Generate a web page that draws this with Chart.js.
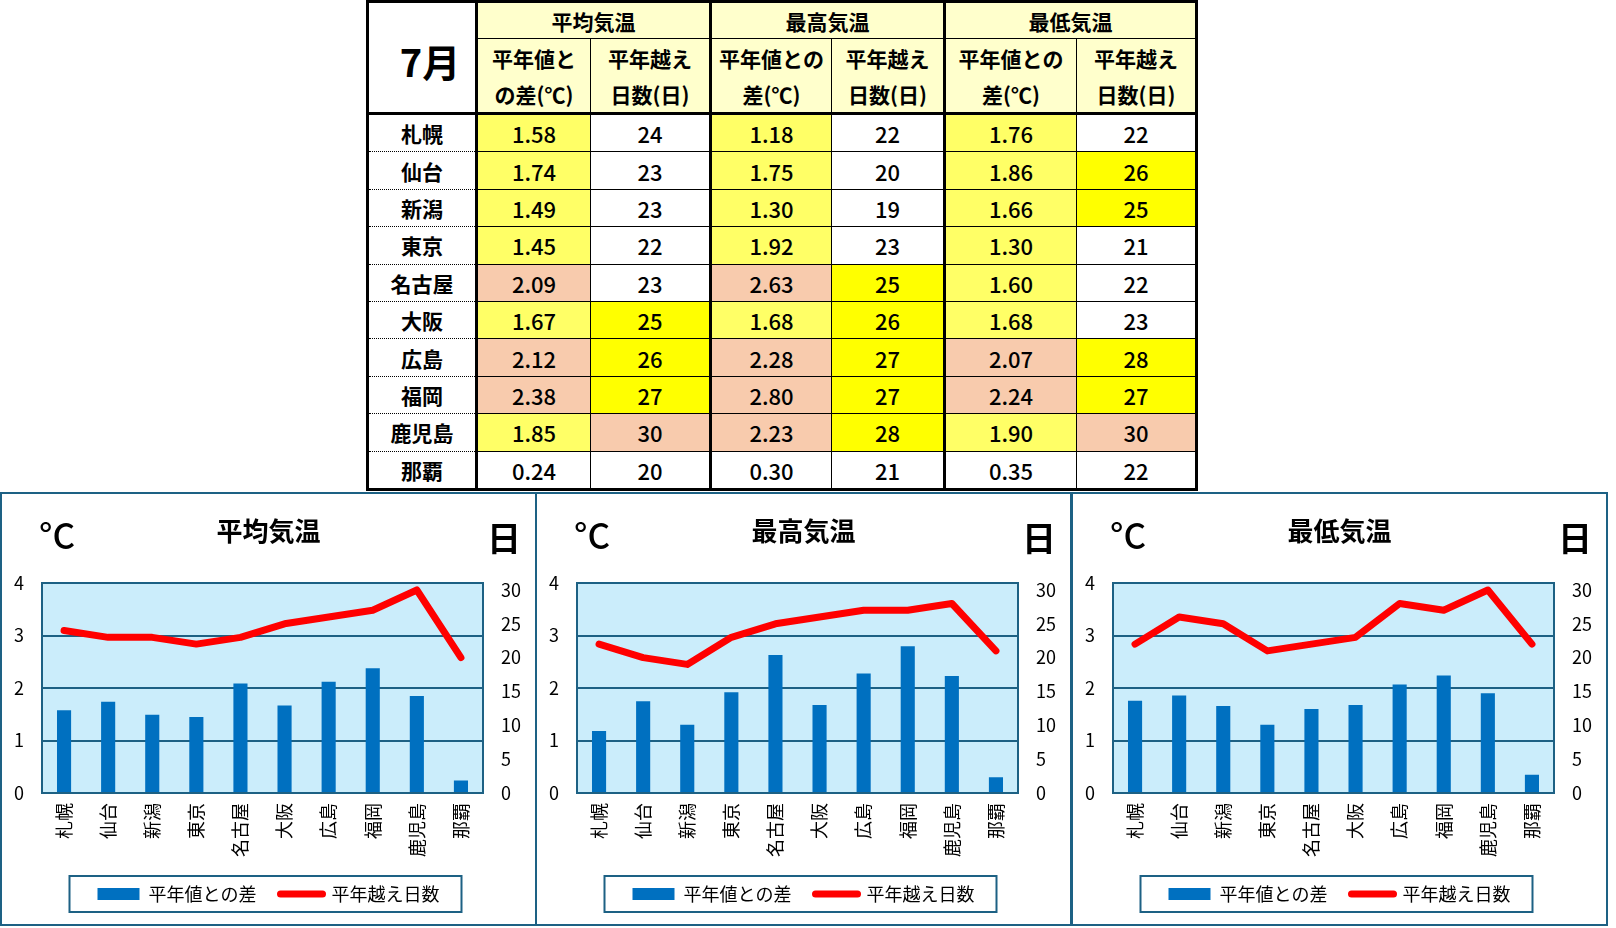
<!DOCTYPE html>
<html lang="ja">
<head>
<meta charset="utf-8">
<script src="https://cdn.jsdelivr.net/npm/chart.js@4.4.1/dist/chart.umd.min.js"></script>
<style>
  body { margin: 0; background: #fff; width: 1616px; height: 928px; position: relative; overflow: hidden;
         font-family: "Noto Sans CJK JP", sans-serif; }
  #tbl { position: absolute; left: 366px; top: 0; width: 829px; border-collapse: collapse; table-layout: fixed;
         border: 3px solid #000; color: #000; }
  #tbl td { text-align: center; padding: 0; border: 1px solid #000; white-space: nowrap; overflow: hidden; }
  #tbl .hd { background: #ffffcc; font-weight: bold; font-size: 21px; }
  #tbl .h1 { height: 35px; }
  #tbl .h2 { height: 73px; line-height: 36px; border-bottom: 3px solid #000; }
  #tbl .month { background: #fff; font-size: 38px; font-weight: bold; padding-left: 16px; padding-top: 6px;
                border-bottom: 3px solid #000; }
  #tbl .city { font-size: 21px; font-weight: bold; border-top: 1px dotted #000; border-bottom: 1px dotted #000; }
  #tbl .num { font-size: 22px; font-weight: 500; height: 36.4px; }
  #tbl .tl { border-left: 3px solid #000; }
  .panel { position: absolute; top: 492px; width: 533px; height: 430px; border: 2px solid #1d6184; background: #fff; }
</style>
</head>
<body>
<table id="tbl">
  <colgroup>
    <col style="width:109px"><col style="width:114px"><col style="width:120px"><col style="width:121px">
    <col style="width:113px"><col style="width:132px"><col style="width:120px">
  </colgroup>
  <tbody id="tbody"></tbody>
</table>

<div class="panel" style="left:0px"><canvas id="avg"></canvas></div>
<div class="panel" style="left:535px"><canvas id="max"></canvas></div>
<div class="panel" style="left:1071px"><canvas id="min"></canvas></div>

<script>
const cities = ["札幌", "仙台", "新潟", "東京", "名古屋", "大阪", "広島", "福岡", "鹿児島", "那覇"];

const avgDiff = [1.58, 1.74, 1.49, 1.45, 2.09, 1.67, 2.12, 2.38, 1.85, 0.24];
const avgDays = [24, 23, 23, 22, 23, 25, 26, 27, 30, 20];

const maxDiff = [1.18, 1.75, 1.30, 1.92, 2.63, 1.68, 2.28, 2.80, 2.23, 0.30];
const maxDays = [22, 20, 19, 23, 25, 26, 27, 27, 28, 21];

const minDiff = [1.76, 1.86, 1.66, 1.30, 1.60, 1.68, 2.07, 2.24, 1.90, 0.35];
const minDays = [22, 26, 25, 21, 22, 23, 28, 27, 30, 22];

const diffTicks = [0, 1, 2, 3, 4];
const dayTicks = [0, 5, 10, 15, 20, 25, 30];

const FONT = '"Noto Sans CJK JP", sans-serif';
const TEAL = "#1d6184";

// table
function diffColor(v) {
  if (v >= 2) return "#f8cbad";
  if (v >= 1) return "#ffff66";
  return "#fff";
}
function daysColor(d) {
  if (d >= 30) return "#f8cbad";
  if (d >= 25) return "#ffff00";
  return "#fff";
}

let html = "";
html += '<tr><td class="month" rowspan="2">7月</td>' +
  '<td class="hd h1 tl" colspan="2">平均気温</td>' +
  '<td class="hd h1 tl" colspan="2">最高気温</td>' +
  '<td class="hd h1 tl" colspan="2">最低気温</td></tr>';
html += '<tr>' +
  '<td class="hd h2 tl">平年値と<br>の差(℃)</td><td class="hd h2">平年越え<br>日数(日)</td>' +
  '<td class="hd h2 tl">平年値との<br>差(℃)</td><td class="hd h2">平年越え<br>日数(日)</td>' +
  '<td class="hd h2 tl">平年値との<br>差(℃)</td><td class="hd h2">平年越え<br>日数(日)</td></tr>';
cities.forEach((c, i) => {
  html += "<tr>" +
    '<td class="city">' + c + "</td>" +
    '<td class="num tl" style="background:' + diffColor(avgDiff[i]) + '">' + avgDiff[i].toFixed(2) + "</td>" +
    '<td class="num" style="background:' + daysColor(avgDays[i]) + '">' + avgDays[i] + "</td>" +
    '<td class="num tl" style="background:' + diffColor(maxDiff[i]) + '">' + maxDiff[i].toFixed(2) + "</td>" +
    '<td class="num" style="background:' + daysColor(maxDays[i]) + '">' + maxDays[i] + "</td>" +
    '<td class="num tl" style="background:' + diffColor(minDiff[i]) + '">' + minDiff[i].toFixed(2) + "</td>" +
    '<td class="num" style="background:' + daysColor(minDays[i]) + '">' + minDays[i] + "</td>" +
    "</tr>";
});
document.getElementById("tbody").innerHTML = html;

// charts
Chart.defaults.font.family = FONT;
Chart.defaults.color = "#000";

const plotBg = {
  id: "plotBg",
  beforeDraw(chart) {
    const { ctx, chartArea: a } = chart;
    ctx.save();
    ctx.fillStyle = "#cbedfb";
    ctx.fillRect(a.left, a.top, a.width, a.height);
    ctx.restore();
  },
};

// unit labels above the axes + frame around the legend
const extras = {
  id: "extras",
  afterDraw(chart) {
    const { ctx, chartArea: a } = chart;
    ctx.save();
    ctx.fillStyle = "#000";
    ctx.textBaseline = "middle";
    ctx.font = "500 35px " + FONT;
    ctx.textAlign = "left";
    ctx.fillText("°C", a.left - 3, a.top - 47);
    ctx.font = "bold 34px " + FONT;
    ctx.textAlign = "right";
    ctx.fillText("日", a.right + 38, a.top - 45);

    const boxes = chart.legend.legendHitBoxes;
    if (boxes && boxes.length) {
      const x0 = Math.min(...boxes.map((b) => b.left));
      const x1 = Math.max(...boxes.map((b) => b.left + b.width));
      const y0 = Math.min(...boxes.map((b) => b.top));
      const y1 = Math.max(...boxes.map((b) => b.top + b.height));
      ctx.strokeStyle = TEAL;
      ctx.lineWidth = 2;
      ctx.strokeRect(x0 - 28, y0 - 9, x1 - x0 + 50, y1 - y0 + 18);
    }
    ctx.restore();
  },
};

const defaultLabels = Chart.defaults.plugins.legend.labels.generateLabels;

function makeChart(id, title, diffs, days) {
  new Chart(document.getElementById(id), {
    data: {
      labels: cities,
      datasets: [
        {
          type: "bar",
          label: "平年値との差",
          data: diffs,
          yAxisID: "y",
          backgroundColor: "#0070c0",
          borderWidth: 0,
          barPercentage: 0.32,
          categoryPercentage: 1,
          pointStyle: "rect",
          order: 1,
        },
        {
          type: "line",
          label: "平年越え日数",
          data: days,
          yAxisID: "y1",
          borderColor: "#ff0000",
          backgroundColor: "#ff0000",
          borderWidth: 7,
          borderCapStyle: "round",
          borderJoinStyle: "round",
          pointRadius: 0,
          pointStyle: "line",
          tension: 0,
          order: 0,
        },
      ],
    },
    options: {
      responsive: true,
      maintainAspectRatio: false,
      animation: false,
      layout: { padding: { left: 0, right: 0, top: 0, bottom: 11 } },
      plugins: {
        tooltip: { enabled: false },
        title: {
          display: true,
          text: title,
          color: "#000",
          font: { size: 26, weight: "bold" },
          padding: { top: 22, bottom: 36 },
        },
        legend: {
          position: "bottom",
          labels: {
            usePointStyle: true,
            pointStyleWidth: 42,
            boxHeight: 12,
            padding: 24,
            color: "#000",
            font: { size: 18 },
            sort: (a, b) => a.datasetIndex - b.datasetIndex,
            generateLabels: (chart) => {
              const items = defaultLabels(chart);
              items.forEach((it) => {
                if (it.datasetIndex === 1) {
                  it.lineWidth = 7;
                  it.lineCap = "round";
                  it.strokeStyle = "#ff0000";
                }
              });
              return items;
            },
          },
        },
      },
      scales: {
        x: {
          grid: { display: false, drawTicks: false },
          border: { color: TEAL, width: 2 },
          ticks: { minRotation: 90, maxRotation: 90, padding: 10, font: { size: 18 }, color: "#000" },
          afterFit: (s) => { s.height = 68; },
        },
        y: {
          position: "left",
          min: 0,
          max: 4,
          ticks: { padding: 18, font: { size: 18 }, color: "#000" },
          grid: { color: TEAL, lineWidth: 2, drawTicks: false },
          border: { color: TEAL, width: 2 },
          afterBuildTicks: (s) => { s.ticks = diffTicks.map((v) => ({ value: v })); },
          afterFit: (s) => { s.width = 40; },
        },
        y1: {
          position: "right",
          min: 0,
          max: 31,
          ticks: { padding: 18, font: { size: 18 }, color: "#000" },
          grid: { display: false, drawTicks: false },
          border: { color: TEAL, width: 2 },
          afterBuildTicks: (s) => { s.ticks = dayTicks.map((v) => ({ value: v })); },
          afterFit: (s) => { s.width = 52; },
        },
      },
    },
    plugins: [plotBg, extras],
  });
}

makeChart("avg", "平均気温", avgDiff, avgDays);
makeChart("max", "最高気温", maxDiff, maxDays);
makeChart("min", "最低気温", minDiff, minDays);
</script>
</body>
</html>
